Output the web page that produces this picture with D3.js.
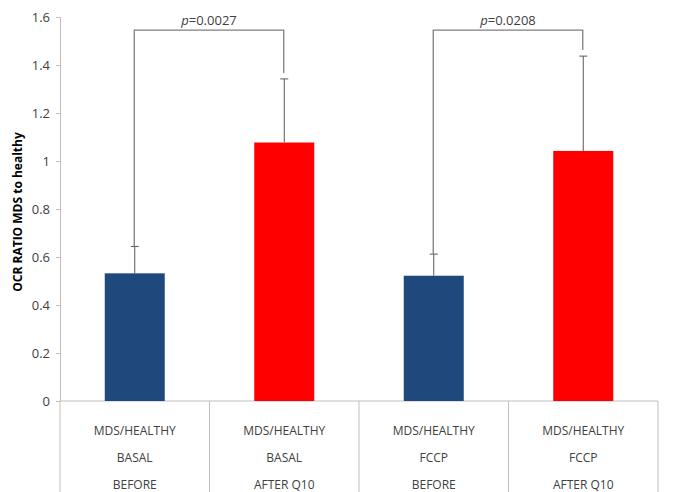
<!DOCTYPE html>
<html>
<head>
<meta charset="utf-8">
<script src="https://cdn.jsdelivr.net/npm/d3@7"></script>
<style>
  body { margin: 0; background: #fff; }
  text { font-family: "Open Sans", sans-serif; fill: #404040; }
</style>
</head>
<body>
<script>
// data
var groups = ["g1", "g2", "g3", "g4"];
var labelLines = [
    ["MDS/HEALTHY", "BASAL", "BEFORE"],
    ["MDS/HEALTHY", "BASAL", "AFTER Q10"],
    ["MDS/HEALTHY", "FCCP", "BEFORE"],
    ["MDS/HEALTHY", "FCCP", "AFTER Q10"]
];
var values = [0.532, 1.077, 0.522, 1.042];
var errors = [0.112, 0.265, 0.09, 0.395];
var barColors = ["#1F497D", "#FF0000", "#1F497D", "#FF0000"];
var yTicks = [0, 0.2, 0.4, 0.6, 0.8, 1, 1.2, 1.4, 1.6];
var pairs = [
    { from: 0, to: 1, p: "0.0027" },
    { from: 2, to: 3, p: "0.0208" }
];

var width = 673, height = 492;
var margin = { top: 17, right: 15, bottom: 91, left: 60 };

var svg = d3.select("body").append("svg")
    .attr("width", width)
    .attr("height", height);

var x = d3.scaleBand().domain(groups)
    .range([margin.left, width - margin.right])
    .paddingInner(0).paddingOuter(0);

var y = d3.scaleLinear().domain([0, 1.6])
    .range([height - margin.bottom, margin.top]);

var barW = 60;
var cx = function (i) { return x(groups[i]) + x.bandwidth() / 2; };

// y axis
var yAxis = svg.append("g")
    .attr("transform", "translate(" + margin.left + ",0)")
    .call(d3.axisLeft(y).tickValues(yTicks).tickSize(4).tickPadding(6)
        .tickFormat(function (d) { return d3.format("")(d); }));
yAxis.select(".domain").attr("stroke", "#bfbfbf");
yAxis.selectAll(".tick line").attr("stroke", "#bfbfbf");
yAxis.selectAll(".tick text").style("font-size", "13px").attr("fill", "#404040");

// x axis baseline and category dividers
var y0 = y(0);
svg.append("line")
    .attr("x1", margin.left).attr("x2", width - margin.right)
    .attr("y1", y0).attr("y2", y0)
    .attr("stroke", "#bfbfbf");

svg.selectAll(".divider")
    .data(groups.concat(["end"]))
    .enter().append("line")
    .attr("class", "divider")
    .attr("x1", function (d, i) { return i < groups.length ? x(d) : x.range()[1]; })
    .attr("x2", function (d, i) { return i < groups.length ? x(d) : x.range()[1]; })
    .attr("y1", y0).attr("y2", height)
    .attr("stroke", "#bfbfbf");

// bars
svg.selectAll(".bar")
    .data(values)
    .enter().append("rect")
    .attr("class", "bar")
    .attr("x", function (d, i) { return cx(i) - barW / 2; })
    .attr("y", function (d) { return y(d); })
    .attr("width", barW)
    .attr("height", function (d) { return y0 - y(d); })
    .attr("fill", function (d, i) { return barColors[i]; });

// error bars (upper only)
var err = svg.selectAll(".err")
    .data(values)
    .enter().append("g")
    .attr("class", "err");
err.append("line")
    .attr("x1", function (d, i) { return cx(i); })
    .attr("x2", function (d, i) { return cx(i); })
    .attr("y1", function (d) { return y(d); })
    .attr("y2", function (d, i) { return y(d + errors[i]); })
    .attr("stroke", "#595959");
err.append("line")
    .attr("x1", function (d, i) { return cx(i) - 4; })
    .attr("x2", function (d, i) { return cx(i) + 4; })
    .attr("y1", function (d, i) { return y(d + errors[i]); })
    .attr("y2", function (d, i) { return y(d + errors[i]); })
    .attr("stroke", "#595959");

// significance brackets
var brY = y(1.545);
pairs.forEach(function (p) {
    var xa = cx(p.from) - 0.5, xb = cx(p.to) - 0.5;
    var ya = y(values[p.from] + errors[p.from]);
    var yb = y(values[p.to] + errors[p.to]) - 6;
    svg.append("path")
        .attr("d", "M" + xa + "," + ya + "V" + brY + "H" + xb + "V" + yb)
        .attr("fill", "none")
        .attr("stroke", "#7f7f7f")
        .attr("stroke-width", 1.3);
    var t = svg.append("text")
        .attr("x", (xa + xb) / 2)
        .attr("y", brY - 5)
        .attr("text-anchor", "middle")
        .style("font-size", "13px");
    t.append("tspan").style("font-style", "italic").text("p");
    t.append("tspan").text("=" + p.p);
});

// category labels
groups.forEach(function (g, i) {
    labelLines[i].forEach(function (line, j) {
        svg.append("text")
            .attr("x", cx(i))
            .attr("y", y0 + 34 + j * 27)
            .attr("text-anchor", "middle")
            .style("font-size", "12px")
            .text(line);
    });
});

// y axis title
svg.append("text")
    .attr("transform", "translate(22," + (y(0.8) + 3) + ") rotate(-90)")
    .attr("text-anchor", "middle")
    .style("font-size", "12px")
    .style("font-weight", "bold")
    .attr("fill", "#000")
    .style("fill", "#000")
    .text("OCR RATIO MDS to healthy");
</script>
</body>
</html>
